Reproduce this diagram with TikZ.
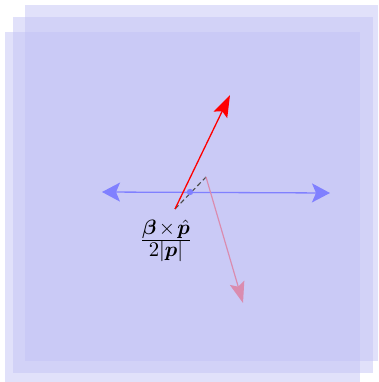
\documentclass[tikz,border=0pt]{standalone}
\usepackage{amsmath,bm,graphicx}
\usetikzlibrary{arrows.meta}
\definecolor{planefill}{RGB}{195,195,245}
\definecolor{axisblue}{RGB}{128,128,255}
\definecolor{pinkish}{RGB}{218,140,175}
\tikzset{
  plane/.style={fill=planefill,fill opacity=0.5,draw=none},
  axisline/.style={draw=axisblue,line width=1.3pt,
    {Stealth[length=18pt,width=19pt,inset=4pt]}-{Stealth[length=18pt,width=19pt,inset=4pt]}},
  redvec/.style={draw=red,line width=1.3pt,-{Stealth[length=22pt,width=15pt,inset=4pt]}},
  pinkvec/.style={draw=pinkish,line width=1.2pt,-{Stealth[length=21pt,width=15pt,inset=4pt]}},
  shiftline/.style={draw=black!70,line width=1.1pt,dash pattern=on 5pt off 3pt},
  fraclabel/.style={inner sep=0pt}
}
\begin{document}
\begin{tikzpicture}[x=1pt,y=-1pt]
\useasboundingbox (0,0) rectangle (378,382);
\path[plane] (25,5) rectangle (378,361);
\path[plane] (13,17) rectangle (373,373);
\path[plane] (5,32) rectangle (360,382);
\coordinate (L) at (102,192);
\coordinate (R) at (330,193);
\coordinate (O) at (190,192);
\coordinate (rs) at (175,209);
\coordinate (re) at (230,95);
\coordinate (ps) at (206,177);
\coordinate (pe) at (243,303);
\draw[axisline] (L) -- (R);
\draw[shiftline] (rs) -- (ps);
\fill[axisblue] (O) circle[radius=3.2pt];
\draw[pinkvec] (ps) -- (pe);
\draw[redvec] (rs) -- (re);
\node[fraclabel] (lab) at (166,241) {\scalebox{2.08}{$\medmuskip=2mu\frac{\textstyle\bm{\beta}\times\hat{\bm{p}}}{\textstyle 2|\bm{p}|}$}};
\end{tikzpicture}
\end{document}
